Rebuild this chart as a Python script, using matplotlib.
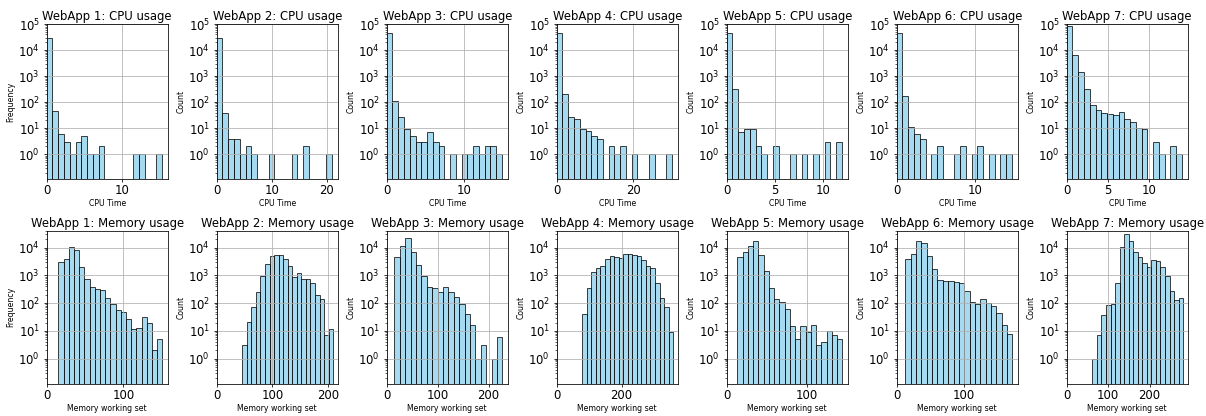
import matplotlib
matplotlib.use("Agg")
import matplotlib.pyplot as plt
import numpy as np

app_names = ["WebApp 1", "WebApp 2", "WebApp 3", "WebApp 4", "WebApp 5", "WebApp 6", "WebApp 7"]

# CPU usage histograms (20 equal-width bins between min and max)
cpu_counts_1 = [28000, 45, 6, 3, 1, 3, 5, 1, 1, 2, 0, 0, 0, 0, 0, 1, 1, 0, 0, 1]
cpu_counts_2 = [28000, 37, 4, 4, 1, 2, 1, 0, 0, 1, 0, 0, 0, 1, 0, 2, 0, 0, 0, 1]
cpu_counts_3 = [45000, 110, 28, 9, 5, 3, 3, 7, 3, 2, 0, 1, 0, 1, 1, 2, 1, 2, 2, 1]
cpu_counts_4 = [45000, 200, 27, 23, 9, 8, 5, 4, 0, 2, 1, 2, 0, 1, 0, 0, 1, 0, 0, 1]
cpu_counts_5 = [44000, 310, 7, 9, 9, 2, 1, 0, 2, 0, 0, 1, 0, 1, 0, 1, 0, 3, 0, 3]
cpu_counts_6 = [45000, 175, 11, 6, 4, 0, 1, 2, 0, 0, 1, 2, 0, 1, 2, 0, 1, 0, 1, 1]
cpu_counts_7 = [83000, 6600, 1500, 330, 81, 52, 38, 36, 33, 43, 23, 17, 10, 9, 0, 3, 1, 0, 2, 1]
cpu_min = [0, 0, 0, 0, 0, 0, 0]
cpu_max = [15.33, 20.9, 14.98, 30.2, 11.93, 14.76, 13.95]

# Memory usage histograms
mem_counts_1 = [2960, 3800, 10200, 8100, 2080, 740, 370, 316, 290, 150,
                91, 59, 49, 27, 12, 13, 31, 19, 2, 5]
mem_counts_2 = [3, 21, 71, 245, 950, 2500, 5000, 5500, 5500, 3800,
                2100, 900, 1200, 720, 720, 520, 200, 142, 7, 12]
mem_counts_3 = [4800, 11800, 22000, 7200, 2400, 980, 385, 345, 245, 370,
                260, 172, 93, 40, 16, 1, 3, 0, 1, 6]
mem_counts_4 = [40, 340, 1300, 1900, 2200, 3800, 5100, 4800, 4400, 5800,
                5800, 5600, 5100, 3500, 2100, 1800, 550, 150, 70, 9]
mem_counts_5 = [4800, 7200, 11800, 18000, 5500, 1500, 360, 142, 114, 62,
                15, 5, 15, 9, 16, 3, 4, 10, 7, 5]
mem_counts_6 = [3900, 5800, 17500, 14500, 5000, 1660, 670, 620, 650, 600,
                535, 275, 107, 93, 138, 99, 79, 43, 16, 8]
mem_counts_7 = [1, 7, 37, 86, 93, 520, 11000, 32000, 17500, 7200,
                4800, 2750, 2000, 3500, 3200, 2000, 980, 285, 126, 150]
mem_min = [15.2, 46, 15.0, 79, 13.3, 13, 62]
mem_max = [150.9, 209, 227, 359, 144.6, 172.5, 281]

cpu_counts = [cpu_counts_1, cpu_counts_2, cpu_counts_3, cpu_counts_4,
              cpu_counts_5, cpu_counts_6, cpu_counts_7]
mem_counts = [mem_counts_1, mem_counts_2, mem_counts_3, mem_counts_4,
              mem_counts_5, mem_counts_6, mem_counts_7]

DPI = 70
fig = plt.figure(figsize=(1206 / DPI, 416 / DPI), dpi=DPI)

W, H = 1206.0, 416.0


def draw(ax, counts, lo, hi, title, xlabel, ylabel, ylim):
    counts = np.asarray(counts, dtype=float)
    edges = np.linspace(lo, hi, len(counts) + 1)
    width = edges[1] - edges[0]
    mask = counts > 0
    ax.bar(edges[:-1][mask], counts[mask], width=width, align="edge",
           color="skyblue", edgecolor="black", alpha=0.75, linewidth=1.0)
    ax.set_yscale("log")
    ax.set_ylim(*ylim)
    ax.set_xlim(0, hi + 0.05 * (hi - lo))
    ax.grid(True)
    ax.set_title(title, fontsize=12, pad=4)
    ax.set_xlabel(xlabel, fontsize=8, labelpad=2)
    ax.set_ylabel(ylabel, fontsize=8, labelpad=3)
    ax.tick_params(axis="both", labelsize=12)
    ax.tick_params(axis="x", pad=2)


for i in range(7):
    left = (46.7 + 170 * i) / W
    ax_top = fig.add_axes([left, 1 - 179 / H, 121 / W, 155 / H])
    draw(ax_top, cpu_counts[i], cpu_min[i], cpu_max[i],
         f"{app_names[i]}: CPU usage", "CPU Time",
         "Frequency" if i == 0 else "Count", (0.113, 1e5))
    ax_bot = fig.add_axes([left, 1 - 384 / H, 121 / W, 153.3 / H])
    draw(ax_bot, mem_counts[i], mem_min[i], mem_max[i],
         f"{app_names[i]}: Memory usage", "Memory working set",
         "Frequency" if i == 0 else "Count", (0.122, 41000))

fig.savefig("out.png", dpi=DPI)
